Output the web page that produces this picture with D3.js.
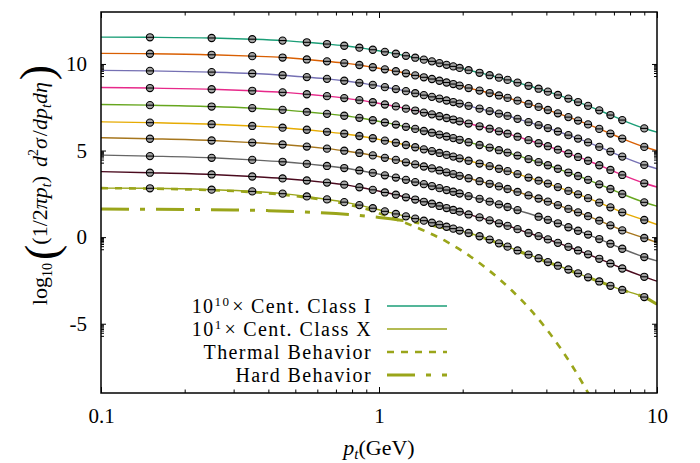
<!DOCTYPE html>
<html>
<head>
<meta charset="utf-8">
<script src="https://cdn.jsdelivr.net/npm/d3@7"></script>
<style>
  html, body { margin: 0; padding: 0; background: #fff; }
  svg { display: block; font-family: "Liberation Serif", "DejaVu Serif", serif; }
</style>
</head>
<body>
<svg id="chart" width="700" height="463"></svg>
<script>
// transverse-momentum bin centres (GeV)
const ptBins = [0.15, 0.25, 0.35, 0.45, 0.55, 0.65, 0.75, 0.85, 0.95, 1.05, 1.15, 1.25,
                1.35, 1.45, 1.55, 1.65, 1.75, 1.85, 1.95, 2.1, 2.3, 2.5, 2.7, 2.9,
                3.15, 3.45, 3.75, 4.05, 4.4, 4.8, 5.2, 5.65, 6.2, 6.8, 7.5, 9.0];

// log10 of the scaled invariant yield, one array per centrality class (I = 10^10 ... X = 10^1)
const classI    = [11.54, 11.50, 11.43, 11.35, 11.25, 11.15, 11.05, 10.94, 10.82, 10.70, 10.59, 10.47,
                   10.36, 10.25, 10.15, 10.05, 9.95, 9.86, 9.77, 9.64, 9.49, 9.35, 9.21, 9.08,
                   8.92, 8.74, 8.57, 8.40, 8.21, 8.00, 7.80, 7.58, 7.32, 7.05, 6.76, 6.28];
const classII   = [10.59, 10.53, 10.45, 10.37, 10.26, 10.15, 10.05, 9.94, 9.81, 9.69, 9.58, 9.46,
                   9.34, 9.23, 9.13, 9.03, 8.93, 8.84, 8.75, 8.61, 8.46, 8.32, 8.18, 8.04,
                   7.88, 7.69, 7.52, 7.34, 7.15, 6.93, 6.73, 6.51, 6.25, 5.98, 5.69, 5.21];
const classIII  = [9.60, 9.53, 9.45, 9.35, 9.24, 9.14, 9.03, 8.91, 8.79, 8.66, 8.55, 8.43,
                   8.31, 8.20, 8.10, 8.00, 7.89, 7.80, 7.71, 7.58, 7.42, 7.28, 7.13, 7.00,
                   6.83, 6.64, 6.47, 6.30, 6.10, 5.89, 5.69, 5.47, 5.21, 4.94, 4.65, 4.17];
const classIV   = [8.61, 8.54, 8.45, 8.36, 8.25, 8.14, 8.03, 7.91, 7.79, 7.66, 7.55, 7.42,
                   7.31, 7.19, 7.09, 6.98, 6.88, 6.79, 6.69, 6.56, 6.40, 6.26, 6.11, 5.97,
                   5.80, 5.60, 5.42, 5.25, 5.05, 4.83, 4.63, 4.41, 4.15, 3.88, 3.59, 3.11];
const classV    = [7.62, 7.54, 7.45, 7.35, 7.23, 7.12, 7.01, 6.89, 6.75, 6.62, 6.50, 6.37,
                   6.25, 6.13, 6.03, 5.92, 5.81, 5.72, 5.62, 5.48, 5.32, 5.17, 5.02, 4.88,
                   4.71, 4.51, 4.33, 4.15, 3.95, 3.73, 3.53, 3.31, 3.05, 2.78, 2.49, 2.01];
const classVI   = [6.61, 6.52, 6.42, 6.32, 6.20, 6.08, 5.97, 5.84, 5.71, 5.57, 5.45, 5.32,
                   5.19, 5.07, 4.97, 4.86, 4.75, 4.65, 4.55, 4.41, 4.25, 4.10, 3.95, 3.81,
                   3.64, 3.44, 3.26, 3.09, 2.89, 2.67, 2.47, 2.25, 1.99, 1.72, 1.43, 0.99];
const classVII  = [5.68, 5.58, 5.46, 5.35, 5.23, 5.11, 4.99, 4.86, 4.72, 4.58, 4.46, 4.32,
                   4.20, 4.08, 3.97, 3.85, 3.74, 3.64, 3.54, 3.40, 3.23, 3.08, 2.93, 2.78,
                   2.61, 2.41, 2.23, 2.05, 1.85, 1.63, 1.43, 1.21, 0.95, 0.68, 0.39, -0.05];
const classVIII = [4.68, 4.58, 4.46, 4.35, 4.23, 4.11, 3.99, 3.85, 3.71, 3.57, 3.44, 3.31,
                   3.18, 3.06, 2.95, 2.83, 2.72, 2.62, 2.52, 2.37, 2.21, 2.05, 1.89, 1.74,
                   1.56, null, 1.18, 1.00, 0.80, 0.57, 0.37, 0.15, -0.11, -0.38, -0.67, -1.15];
const classIX   = [3.72, 3.62, 3.50, 3.39, 3.27, 3.15, 3.03, 2.88, 2.73, 2.58, 2.45, 2.30,
                   2.17, 2.04, 1.93, 1.80, 1.68, 1.57, 1.47, 1.31, 1.14, 0.97, 0.80, 0.65,
                   0.46, 0.24, 0.06, -0.13, -0.33, -0.56, -0.77, -0.99, -1.25, -1.52, -1.81, -2.29];
const classX    = [2.82, 2.74, 2.64, 2.51, 2.35, 2.18, 2.02, 1.85, 1.67, 1.49, 1.34, 1.20,
                   1.07, 0.95, 0.83, 0.72, 0.60, 0.49, 0.38, 0.24, 0.05, -0.14, -0.36, -0.55,
                   -0.77, -1.01, -1.22, -1.44, -1.65, -1.87, -2.09, -2.32, -2.56, -2.81, -3.05, -3.46];

const classNames = ["I", "II", "III", "IV", "V", "VI", "VII", "VIII", "IX", "X"];
// fitted curve values at the ends of the pT range (0.1 and 10 GeV)
const fitAtLow  = [11.55, 10.61, 9.63, 8.64, 7.66, 6.66, 5.74, 4.74, 3.78, 2.83];
const fitAtHigh = [6.06, 4.99, 3.95, 2.89, 1.79, 0.73, -0.31, -1.37, -2.54, -3.88];

// thermal and hard components of the most peripheral class
const thermalPt  = [0.1, 0.15, 0.2, 0.3, 0.4, 0.5, 0.6, 0.7, 0.8, 0.9, 1.0, 1.2, 1.5, 1.75,
                    2.0, 2.5, 3.0, 3.5, 4.0, 4.5, 5.0, 5.5, 5.8];
const thermalVal = [2.83, 2.80, 2.76, 2.66, 2.53, 2.37, 2.20, 2.02, 1.83, 1.62, 1.38, 0.92, 0.27, -0.26,
                    -0.82, -1.95, -3.07, -4.18, -5.30, -6.42, -7.54, -8.66, -9.33];
const hardPt  = [0.1, 0.2, 0.3, 0.4, 0.5, 0.6, 0.7, 0.8, 1.0, 1.2, 1.5, 2.0, 2.5, 3.0,
                 4.0, 5.0, 6.0, 7.0, 8.0, 9.0, 10];
const hardVal = [1.62, 1.60, 1.57, 1.53, 1.48, 1.42, 1.36, 1.29, 1.14, 0.98, 0.73, 0.30, -0.16, -0.66,
                 -1.41, -2.00, -2.48, -2.88, -3.20, -3.47, -3.88];

const xTickValues = [0.1, 1, 10];
const yTickValues = [-5, 0, 5, 10];

const classColors = ["#1b9e77", "#d95f02", "#7570b3", "#e7298a", "#66a61e",
                     "#e6ab02", "#a6761d", "#666666", "#4a0a1e", "#9aa51a"];
const olive = "#9aa51a";

const series = [classI, classII, classIII, classIV, classV, classVI, classVII, classVIII, classIX, classX];

const plot = { left: 101, right: 657, top: 12, bottom: 393 };
const serifFont = "'Liberation Serif', 'DejaVu Serif', serif";

const svg = d3.select("#chart");
const x = d3.scaleLog().domain([0.1, 10]).range([plot.left, plot.right]);
const y = d3.scaleLinear().domain([-9, 13]).range([plot.bottom, plot.top]);

svg.append("defs").append("clipPath").attr("id", "plotArea")
  .append("rect")
  .attr("x", plot.left).attr("y", plot.top)
  .attr("width", plot.right - plot.left).attr("height", plot.bottom - plot.top);

const line = d3.line()
  .x(d => x(d[0]))
  .y(d => y(d[1]))
  .curve(d3.curveMonotoneX);

const curves = svg.append("g").attr("clip-path", "url(#plotArea)");

// fitted curves for every centrality class
series.forEach((vals, i) => {
  const pts = [[0.1, fitAtLow[i]]]
    .concat(ptBins.map((p, j) => [p, vals[j]]).filter(d => d[1] != null))
    .concat([[10, fitAtHigh[i]]]);
  curves.append("path")
    .attr("d", line(pts))
    .attr("fill", "none")
    .attr("stroke", classColors[i])
    .attr("stroke-width", 1.4);
});

// thermal component (dotted)
curves.append("path")
  .attr("d", line(thermalPt.map((p, j) => [p, thermalVal[j]])))
  .attr("fill", "none")
  .attr("stroke", olive)
  .attr("stroke-width", 2.6)
  .attr("stroke-dasharray", "7,7");

// hard component (dash-dot)
curves.append("path")
  .attr("d", line(hardPt.map((p, j) => [p, hardVal[j]])))
  .attr("fill", "none")
  .attr("stroke", olive)
  .attr("stroke-width", 3)
  .attr("stroke-dasharray", "28,11,5,11");

// data points
const markR = 3.6;
const marks = svg.append("g");
series.forEach((vals) => {
  ptBins.forEach((p, j) => {
    if (vals[j] == null) return;
    const g = marks.append("g").attr("transform", `translate(${x(p)},${y(vals[j])})`);
    g.append("circle").attr("r", markR)
      .attr("fill", "#a3a3a3").attr("stroke", "#000").attr("stroke-width", 1.1);
    g.append("line").attr("x1", -markR).attr("x2", markR).attr("y1", 0).attr("y2", 0)
      .attr("stroke", "#000").attr("stroke-width", 1.1);
  });
});

// axes
const xMinor = [];
[0.1, 1].forEach(d => { for (let k = 2; k <= 9; k++) xMinor.push(+(d * k).toFixed(3)); });
const yMinor = [];
yTickValues.forEach(v => { for (let k = 2; k <= 9; k++) yMinor.push(v - 1 + Math.log10(k)); });

const fmt = d => String(d);
const axisStyle = g => {
  g.select(".domain").remove();
  g.selectAll("line").attr("stroke", "#000").attr("stroke-width", 1);
  g.selectAll("text").attr("font-size", 21).attr("fill", "#000")
    .attr("font-family", serifFont);
};

svg.append("g").attr("transform", `translate(0,${plot.bottom})`)
  .call(d3.axisBottom(x).tickValues(xTickValues).tickFormat(fmt).tickSize(-6).tickPadding(15))
  .call(axisStyle);
svg.append("g").attr("transform", `translate(0,${plot.bottom})`)
  .call(d3.axisBottom(x).tickValues(xMinor).tickFormat("").tickSize(-3.5))
  .call(axisStyle);
svg.append("g").attr("transform", `translate(0,${plot.top})`)
  .call(d3.axisTop(x).tickValues(xTickValues).tickFormat("").tickSize(-6))
  .call(axisStyle);
svg.append("g").attr("transform", `translate(0,${plot.top})`)
  .call(d3.axisTop(x).tickValues(xMinor).tickFormat("").tickSize(-3.5))
  .call(axisStyle);

svg.append("g").attr("transform", `translate(${plot.left},0)`)
  .call(d3.axisLeft(y).tickValues(yTickValues).tickFormat(fmt).tickSize(-5).tickPadding(14))
  .call(axisStyle);
svg.append("g").attr("transform", `translate(${plot.left},0)`)
  .call(d3.axisLeft(y).tickValues(yMinor).tickFormat("").tickSize(-3))
  .call(axisStyle);
svg.append("g").attr("transform", `translate(${plot.right},0)`)
  .call(d3.axisRight(y).tickValues(yTickValues).tickFormat("").tickSize(-5))
  .call(axisStyle);
svg.append("g").attr("transform", `translate(${plot.right},0)`)
  .call(d3.axisRight(y).tickValues(yMinor).tickFormat("").tickSize(-3))
  .call(axisStyle);

// frame
svg.append("rect")
  .attr("x", plot.left).attr("y", plot.top)
  .attr("width", plot.right - plot.left).attr("height", plot.bottom - plot.top)
  .attr("fill", "none").attr("stroke", "#000").attr("stroke-width", 1.5);

// x axis title: p_t(GeV)
const xt = svg.append("text")
  .attr("x", (plot.left + plot.right) / 2).attr("y", 455)
  .attr("text-anchor", "middle").attr("font-size", 22).attr("font-family", serifFont);
xt.append("tspan").attr("font-style", "italic").text("p");
xt.append("tspan").attr("font-style", "italic").attr("font-size", 15).attr("dy", 4).text("t");
xt.append("tspan").attr("dy", -4).text("(GeV)");

// y axis title: log10( (1/2πp_t) d²σ/dp_t dη )
const yt = svg.append("text")
  .attr("transform", "translate(47,185) rotate(-90)")
  .attr("text-anchor", "middle").attr("font-size", 22).attr("font-family", serifFont);
yt.append("tspan").text("log");
yt.append("tspan").attr("font-size", 14).attr("dy", 5).text("10");
yt.append("tspan").attr("font-size", 46).attr("dy", 5).attr("dx", 3).text("(");
yt.append("tspan").attr("dy", -10).text("(1/2");
yt.append("tspan").attr("font-style", "italic").text("πp");
yt.append("tspan").attr("font-style", "italic").attr("font-size", 14).attr("dy", 4).text("t");
yt.append("tspan").attr("dy", -4).text(")");
yt.append("tspan").attr("font-style", "italic").attr("dx", 9).text("d");
yt.append("tspan").attr("font-size", 14).attr("dy", -9).text("2");
yt.append("tspan").attr("font-style", "italic").attr("dy", 9).text("σ");
yt.append("tspan").attr("dx", 2).text("/");
yt.append("tspan").attr("font-style", "italic").text("dp");
yt.append("tspan").attr("font-style", "italic").attr("font-size", 14).attr("dy", 4).text("t");
yt.append("tspan").attr("font-style", "italic").attr("dy", -4).text("dη");
yt.append("tspan").attr("font-size", 46).attr("dy", 5).attr("dx", 2).text(")");

// legend
const legendRows = [
  { kind: "class", idx: 0, color: classColors[0], width: 1.5, dash: null },
  { kind: "class", idx: 9, color: classColors[9], width: 1.5, dash: null },
  { kind: "label", text: "Thermal Behavior", color: olive, width: 2.6, dash: "7,7" },
  { kind: "label", text: "Hard Behavior", color: olive, width: 3, dash: "28,11,5,11" }
];
const classScale = ["10", "1"];
const legendTextX = 372, sampleX1 = 387, sampleX2 = 447;
legendRows.forEach((r, i) => {
  const cy = 306 + i * 23;
  const t = svg.append("text")
    .attr("x", legendTextX).attr("y", cy + 7)
    .attr("text-anchor", "end").attr("font-size", 20).attr("letter-spacing", 1.4)
    .attr("font-family", serifFont);
  if (r.kind === "class") {
    t.append("tspan").text("10");
    t.append("tspan").attr("font-size", 13).attr("dy", -7).text(classScale[i]);
    t.append("tspan").attr("dy", 7).attr("dx", 2).text("×");
    t.append("tspan").attr("dx", 6).text("Cent. Class " + classNames[r.idx]);
  } else {
    t.text(r.text);
  }
  svg.append("line")
    .attr("x1", sampleX1).attr("x2", sampleX2).attr("y1", cy).attr("y2", cy)
    .attr("stroke", r.color).attr("stroke-width", r.width)
    .attr("stroke-dasharray", r.dash);
});
</script>
</body>
</html>
